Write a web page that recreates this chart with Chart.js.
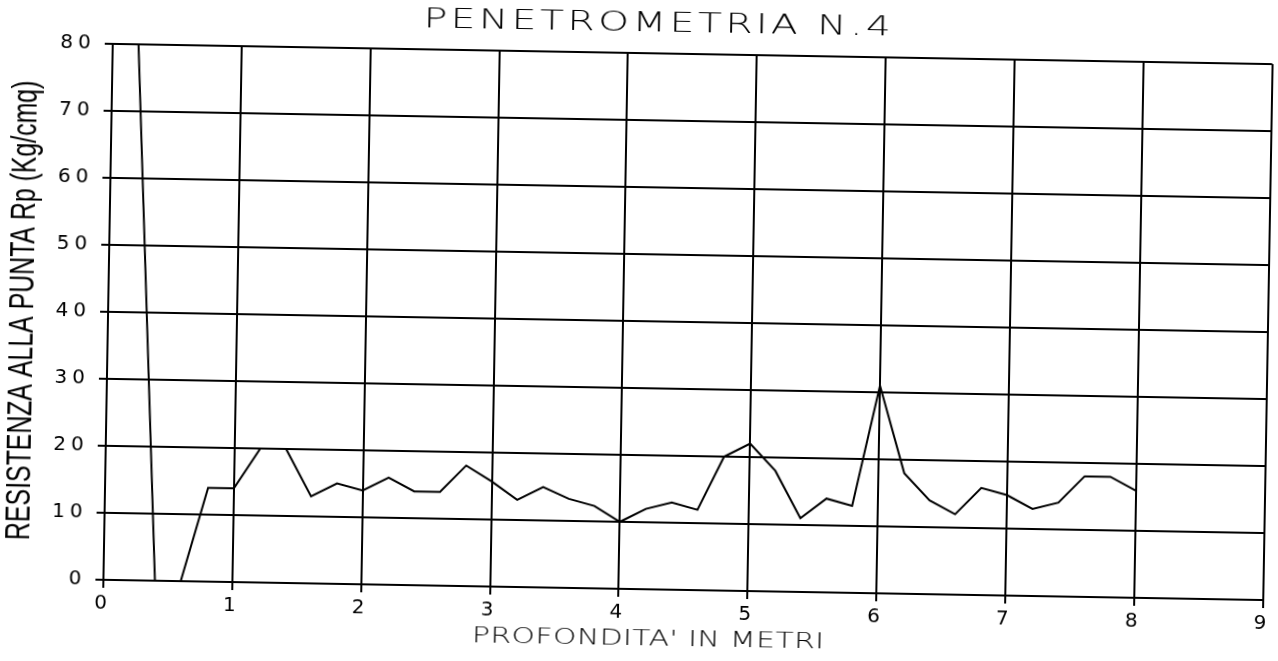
<!DOCTYPE html>
<html lang="it">
<head>
<meta charset="utf-8">
<title>Penetrometria N.4</title>
<script src="https://cdn.jsdelivr.net/npm/chart.js@4.4.1/dist/chart.umd.min.js"></script>
<style>
  html, body { margin: 0; padding: 0; background: #fff; }
  #foglio { width: 1278px; height: 661px; overflow: hidden; background: #fff; }
  /* il foglio è leggermente ruotato, come il tracciato originale */
  #grafico { display: block; transform: rotate(1deg); transform-origin: 690px 322px; }
</style>
</head>
<body>
<div id="foglio"><canvas id="grafico" width="1278" height="661"></canvas></div>
<script>
// Prova penetrometrica n.4 - letture ogni 20 cm
const profondita = [0.2, 0.4, 0.6, 0.8, 1.0, 1.2, 1.4, 1.6, 1.8, 2.0,
                    2.2, 2.4, 2.6, 2.8, 3.0, 3.2, 3.4, 3.6, 3.8, 4.0,
                    4.2, 4.4, 4.6, 4.8, 5.0, 5.2, 5.4, 5.6, 5.8, 6.0,
                    6.2, 6.4, 6.6, 6.8, 7.0, 7.2, 7.4, 7.6, 7.8, 8.0];
const resistenza = [80, 0, 0, 14, 14, 20, 20, 13, 15, 14,
                    16, 14, 14, 18, 15.7, 13, 15, 13.3, 12.3, 10,
                    12, 13, 12, 20, 22, 18, 11, 14, 13, 31,
                    18, 14, 12, 16, 15, 13, 14, 18, 18, 16];

const tickX = [0, 1, 2, 3, 4, 5, 6, 7, 8, 9];
const tickY = [0, 10, 20, 30, 40, 50, 60, 70, 80];

const TITOLO = 'PENETROMETRIA N.4';
const TITOLO_X = "PROFONDITA' IN METRI";
const TITOLO_Y = 'RESISTENZA ALLA PUNTA Rp (Kg/cmq)';

const INCHIOSTRO = '#000';

// testo "da plotter": lettere allargate in orizzontale e spaziate
function scrivi(ctx, testo, x, y, f) {
  ctx.save();
  ctx.translate(x, y);
  ctx.scale(f.stretch, 1);
  ctx.font = `${f.weight || 'normal'} ${f.size}px ${f.family || '"DejaVu Sans"'}`;
  ctx.letterSpacing = (f.spacing / f.stretch) + 'px';
  ctx.textAlign = 'center';
  ctx.textBaseline = 'middle';
  ctx.fillStyle = INCHIOSTRO;
  ctx.fillText(testo, 0, 0);
  ctx.restore();
}

const scritte = {
  id: 'scritte',
  beforeDraw(chart) {
    // spaziatura delle etichette numeriche degli assi
    chart.ctx.letterSpacing = '5px';
  },
  afterDraw(chart) {
    const { ctx, chartArea: a } = chart;
    const cx = (a.left + a.right) / 2 - 34;
    scrivi(ctx, TITOLO, cx, 25, { size: 27, stretch: 1.45, spacing: 3.5, weight: '300' });
    scrivi(ctx, TITOLO_X, cx, 641, { size: 20.5, stretch: 1.45, spacing: 0.5, weight: '300' });
    ctx.save();
    ctx.translate(23, (a.top + a.bottom) / 2);
    ctx.rotate(-Math.PI / 2);
    scrivi(ctx, TITOLO_Y, 0, 0, { family: '"Liberation Sans"', size: 35, stretch: 0.71, spacing: 0 });
    ctx.restore();
  }
};

const punti = profondita.map((p, i) => ({ x: p, y: resistenza[i] }));

const assiComuni = {
  grid: { color: INCHIOSTRO, lineWidth: 2, drawTicks: true, tickLength: 8, tickColor: INCHIOSTRO },
  border: { color: INCHIOSTRO, width: 2 }
};

const fontTick = { family: '"DejaVu Sans"', size: 20 };

new Chart(document.getElementById('grafico'), {
  type: 'line',
  data: {
    datasets: [{
      label: 'Rp',
      data: punti,
      borderColor: INCHIOSTRO,
      borderWidth: 2,
      pointRadius: 0,
      tension: 0,
      fill: false,
      clip: 4
    }]
  },
  options: {
    responsive: false,
    devicePixelRatio: 1,
    animation: false,
    layout: { padding: { top: 54, right: 6, left: 0, bottom: 0 } },
    plugins: {
      legend: { display: false },
      title: { display: false },
      tooltip: { enabled: false }
    },
    scales: {
      x: {
        type: 'linear',
        min: 0,
        max: 9,
        afterBuildTicks: s => { s.ticks = tickX.map(v => ({ value: v })); },
        afterFit: s => { s.height = 71; },
        ...assiComuni,
        ticks: {
          color: INCHIOSTRO,
          font: fontTick,
          padding: 4,
          maxRotation: 0,
          autoSkip: false
        }
      },
      y: {
        type: 'linear',
        min: 0,
        max: 80,
        afterBuildTicks: s => { s.ticks = tickY.map(v => ({ value: v })); },
        afterFit: s => { s.width = 108; },
        ...assiComuni,
        ticks: {
          color: INCHIOSTRO,
          font: fontTick,
          padding: 9,
          autoSkip: false
        }
      }
    }
  },
  plugins: [scritte]
});
</script>
</body>
</html>
